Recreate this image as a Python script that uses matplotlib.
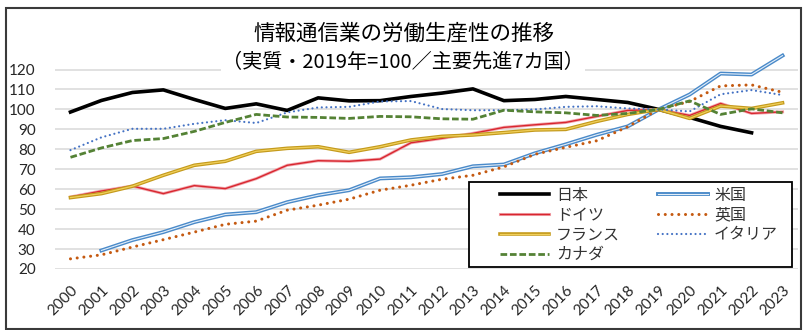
import matplotlib
matplotlib.use("Agg")
import matplotlib.pyplot as plt
import numpy as np
from matplotlib.patches import Rectangle

plt.rcParams['font.family'] = ['Lato', 'Noto Sans CJK JP', 'DejaVu Sans']

years = list(range(2000, 2024))
nan = np.nan

japan = [98.7, 104.5, 108.5, 109.8, 105.0, 100.5, 102.8, 99.5, 105.8, 104.3, 104.4, 106.5,
         108.2, 110.3, 104.4, 105.0, 106.5, 105.0, 103.5, 100.0, 96.0, 91.5, 88.3, nan]
usa = [nan, 29.3, 34.5, 38.5, 43.5, 47.3, 48.5, 53.5, 57.0, 59.5, 65.4, 66.0,
       67.6, 71.5, 72.4, 78.0, 82.5, 87.3, 91.5, 100.0, 107.5, 118.0, 117.5, 127.0]
germany = [56.1, 59.1, 61.6, 57.8, 61.8, 60.3, 65.3, 72.0, 74.3, 74.0, 75.1, 83.3,
           85.5, 88.0, 91.0, 92.3, 93.5, 96.5, 99.5, 100.0, 97.0, 103.0, 98.0, 98.8]
uk = [25.1, 27.1, 31.0, 34.7, 38.5, 42.4, 44.0, 49.5, 52.0, 55.0, 59.5, 62.0,
      65.0, 67.0, 71.2, 77.5, 81.0, 84.3, 91.3, 100.0, 104.0, 111.8, 112.3, 108.6]
france = [55.8, 57.8, 61.5, 67.0, 72.0, 74.0, 79.0, 80.5, 81.3, 78.5, 81.3, 84.7,
          86.5, 87.2, 88.4, 89.7, 90.0, 94.0, 97.5, 100.0, 95.5, 101.7, 100.5, 103.3]
italy = [79.6, 86.0, 90.3, 90.3, 92.8, 94.6, 93.2, 98.5, 101.0, 101.3, 104.0, 104.2,
         100.2, 99.6, 99.6, 100.0, 101.3, 101.6, 100.5, 100.0, 99.0, 107.6, 109.7, 107.2]
canada = [76.0, 80.7, 84.4, 85.4, 89.0, 93.5, 97.5, 96.2, 96.0, 95.5, 96.5, 96.3,
          95.3, 95.1, 99.6, 98.8, 98.3, 97.0, 98.0, 100.0, 104.3, 97.5, 100.3, 98.3]

W, H = 808, 330
fig = plt.figure(figsize=(W / 100, H / 100), dpi=100)
ax = fig.add_axes([55 / W, 1 - 269 / H, 743 / W, (269 - 49.6) / H])

x = np.arange(len(years))

# series drawn in the Excel order (later ones on top)
jp, = ax.plot(x, japan, color='black', lw=2.6)
us_o, = ax.plot(x, usa, color='#4a8ac9', lw=2.8)
us_i, = ax.plot(x, usa, color='#e3eef9', lw=0.8)
de_o, = ax.plot(x, germany, color='#f2a7ad', lw=2.2)
de_i, = ax.plot(x, germany, color='#d8262f', lw=1.0)
gb, = ax.plot(x, uk, color='#c55a11', lw=2.2, linestyle=(0, (0.01, 2.2)),
              dash_capstyle='round')
fr_o, = ax.plot(x, france, color='#c49a1c', lw=2.6)
fr_i, = ax.plot(x, france, color='#f0cf5a', lw=0.9)
it, = ax.plot(x, italy, color='#4472c4', lw=1.6, linestyle=(0, (0.01, 2.1)),
              dash_capstyle='round')
ca, = ax.plot(x, canada, color='#548235', lw=2.0, linestyle=(0, (2.4, 1.0)))

ax.set_xlim(-0.5, len(years) - 0.5)
ax.set_ylim(20, 130)
ax.set_yticks(range(20, 121, 10))
ax.set_xticks(x)
ax.set_xticklabels([str(y) for y in years], rotation=45, ha='right', va='top',
                   rotation_mode='anchor')
ax.tick_params(axis='both', length=0, labelsize=11, colors='#262626')
ax.tick_params(axis='y', pad=14)
ax.tick_params(axis='x', pad=10)
ax.yaxis.grid(True, color='#d9d9d9', lw=1.1)
ax.set_axisbelow(True)
for s in ax.spines.values():
    s.set_visible(False)

# legend box
box = Rectangle(((469 - 55) / 743, (269 - 267) / 219.4), (792 - 469) / 743, (267 - 182) / 219.4,
                transform=ax.transAxes, facecolor='white', edgecolor='black', lw=1.3, zorder=5)
ax.add_patch(box)
handles = [jp, (de_o, de_i), (fr_o, fr_i), ca, (us_o, us_i), gb, it]
names = ['日本', 'ドイツ', 'フランス', 'カナダ', '米国', '英国', 'イタリア']
leg = ax.legend(handles, names, ncol=2, loc='upper left', bbox_to_anchor=(0.588, 0.41),
                frameon=False, borderpad=0, handlelength=3.1, handletextpad=0.4,
                columnspacing=2.4, labelspacing=0.17,
                prop={'family': 'Noto Sans CJK JP', 'size': 11.5})
leg.set_zorder(6)
for t in leg.get_texts():
    t.set_color('#333333')

fig.text(404 / W, 1 - 34 / H, '情報通信業の労働生産性の推移', ha='center', va='center',
         fontsize=15.5, family='Noto Sans CJK JP')
fig.text(403 / W, 1 - 63 / H, '（実質・2019年=100／主要先進7カ国）', ha='center', va='center',
         fontsize=14.5, family='Noto Sans CJK JP',
         bbox=dict(facecolor='white', edgecolor='none', pad=1))

fig.add_artist(Rectangle((6 / W, 1 - 329 / H), (801 - 6) / W, (329 - 8) / H,
                         transform=fig.transFigure, fill=False, edgecolor='#3a3a3a', lw=1.5))

fig.savefig('out.png', dpi=100)
